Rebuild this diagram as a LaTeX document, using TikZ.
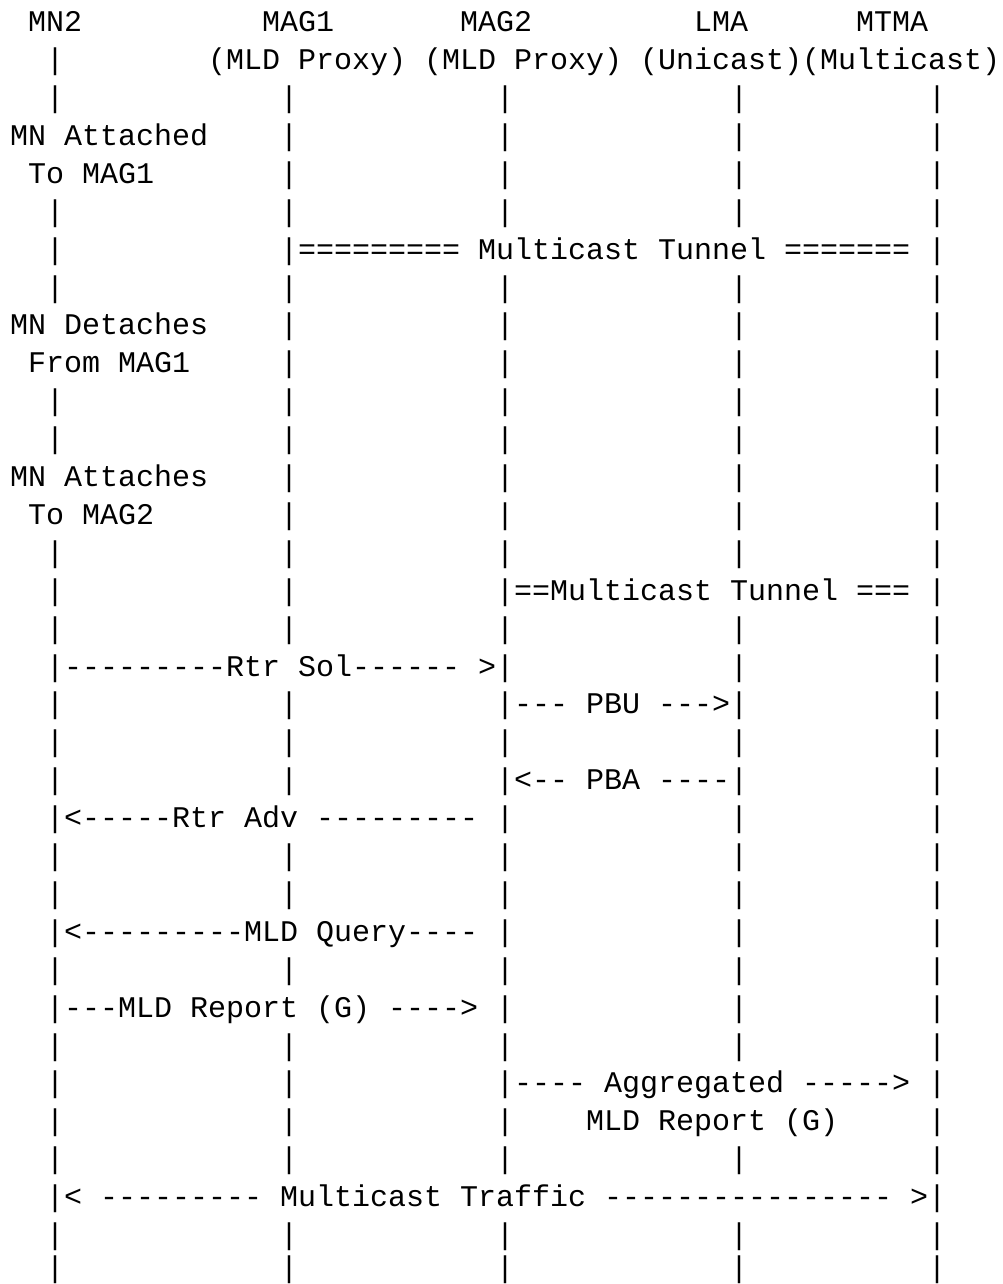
\documentclass[tikz,border=0pt]{standalone}
\usepackage{fontspec}
\setmonofont{Liberation Mono}
\newcommand\gap[1]{\hspace*{#1\fontcharwd\font`M}}
\tikzset{
  asciirow/.style={anchor=base west, inner sep=0pt, outer sep=0pt,
    font=\ttfamily\fontsize{30pt}{36pt}\selectfont, text=black}
}
\begin{document}
\begin{tikzpicture}[x=1pt,y=1pt]
\path[fill=white,use as bounding box] (0,0) rectangle (1002,-1284);
\node[asciirow] (r1)  at (10,-31.7)   {~MN2\gap{10}MAG1\gap{7}MAG2\gap{9}LMA\gap{6}MTMA};
\node[asciirow] (r2)  at (10,-69.6)   {~~|\gap{8}(MLD~Proxy)~(MLD~Proxy)~(Unicast)(Multicast)};
\node[asciirow] (r3)  at (10,-107.5)  {~~|\gap{12}|\gap{11}|\gap{12}|\gap{10}|};
\node[asciirow] (r4)  at (10,-145.4)  {MN~Attached\gap{4}|\gap{11}|\gap{12}|\gap{10}|};
\node[asciirow] (r5)  at (10,-183.3)  {~To~MAG1\gap{7}|\gap{11}|\gap{12}|\gap{10}|};
\node[asciirow] (r6)  at (10,-221.2)  {~~|\gap{12}|\gap{11}|\gap{12}|\gap{10}|};
\node[asciirow] (r7)  at (10,-259.1)  {~~|\gap{12}|=========~Multicast~Tunnel~=======~|};
\node[asciirow] (r8)  at (10,-297.0)  {~~|\gap{12}|\gap{11}|\gap{12}|\gap{10}|};
\node[asciirow] (r9)  at (10,-334.9)  {MN~Detaches\gap{4}|\gap{11}|\gap{12}|\gap{10}|};
\node[asciirow] (r10) at (10,-372.8)  {~From~MAG1\gap{5}|\gap{11}|\gap{12}|\gap{10}|};
\node[asciirow] (r11) at (10,-410.7)  {~~|\gap{12}|\gap{11}|\gap{12}|\gap{10}|};
\node[asciirow] (r12) at (10,-448.6)  {~~|\gap{12}|\gap{11}|\gap{12}|\gap{10}|};
\node[asciirow] (r13) at (10,-486.5)  {MN~Attaches\gap{4}|\gap{11}|\gap{12}|\gap{10}|};
\node[asciirow] (r14) at (10,-524.4)  {~To~MAG2\gap{7}|\gap{11}|\gap{12}|\gap{10}|};
\node[asciirow] (r15) at (10,-562.3)  {~~|\gap{12}|\gap{11}|\gap{12}|\gap{10}|};
\node[asciirow] (r16) at (10,-600.2)  {~~|\gap{12}|\gap{11}|==Multicast~Tunnel~===~|};
\node[asciirow] (r17) at (10,-638.1)  {~~|\gap{12}|\gap{11}|\gap{12}|\gap{10}|};
\node[asciirow] (r18) at (10,-676.0)  {~~|---------Rtr~Sol------~>|\gap{12}|\gap{10}|};
\node[asciirow] (r19) at (10,-713.9)  {~~|\gap{12}|\gap{11}|---~PBU~--->|\gap{10}|};
\node[asciirow] (r20) at (10,-751.8)  {~~|\gap{12}|\gap{11}|\gap{12}|\gap{10}|};
\node[asciirow] (r21) at (10,-789.7)  {~~|\gap{12}|\gap{11}|<--~PBA~----|\gap{10}|};
\node[asciirow] (r22) at (10,-827.6)  {~~|<-----Rtr~Adv~---------~|\gap{12}|\gap{10}|};
\node[asciirow] (r23) at (10,-865.5)  {~~|\gap{12}|\gap{11}|\gap{12}|\gap{10}|};
\node[asciirow] (r24) at (10,-903.4)  {~~|\gap{12}|\gap{11}|\gap{12}|\gap{10}|};
\node[asciirow] (r25) at (10,-941.3)  {~~|<---------MLD~Query----~|\gap{12}|\gap{10}|};
\node[asciirow] (r26) at (10,-979.2)  {~~|\gap{12}|\gap{11}|\gap{12}|\gap{10}|};
\node[asciirow] (r27) at (10,-1017.1) {~~|---MLD~Report~(G)~---->~|\gap{12}|\gap{10}|};
\node[asciirow] (r28) at (10,-1055.0) {~~|\gap{12}|\gap{11}|\gap{12}|\gap{10}|};
\node[asciirow] (r29) at (10,-1092.9) {~~|\gap{12}|\gap{11}|----~Aggregated~----->~|};
\node[asciirow] (r30) at (10,-1130.8) {~~|\gap{12}|\gap{11}|\gap{4}MLD~Report~(G)\gap{5}|};
\node[asciirow] (r31) at (10,-1168.7) {~~|\gap{12}|\gap{11}|\gap{12}|\gap{10}|};
\node[asciirow] (r32) at (10,-1206.6) {~~|<~---------~Multicast~Traffic~----------------~>|};
\node[asciirow] (r33) at (10,-1244.5) {~~|\gap{12}|\gap{11}|\gap{12}|\gap{10}|};
\node[asciirow] (r34) at (10,-1277.0) {~~|\gap{12}|\gap{11}|\gap{12}|\gap{10}|};
\end{tikzpicture}
\end{document}
